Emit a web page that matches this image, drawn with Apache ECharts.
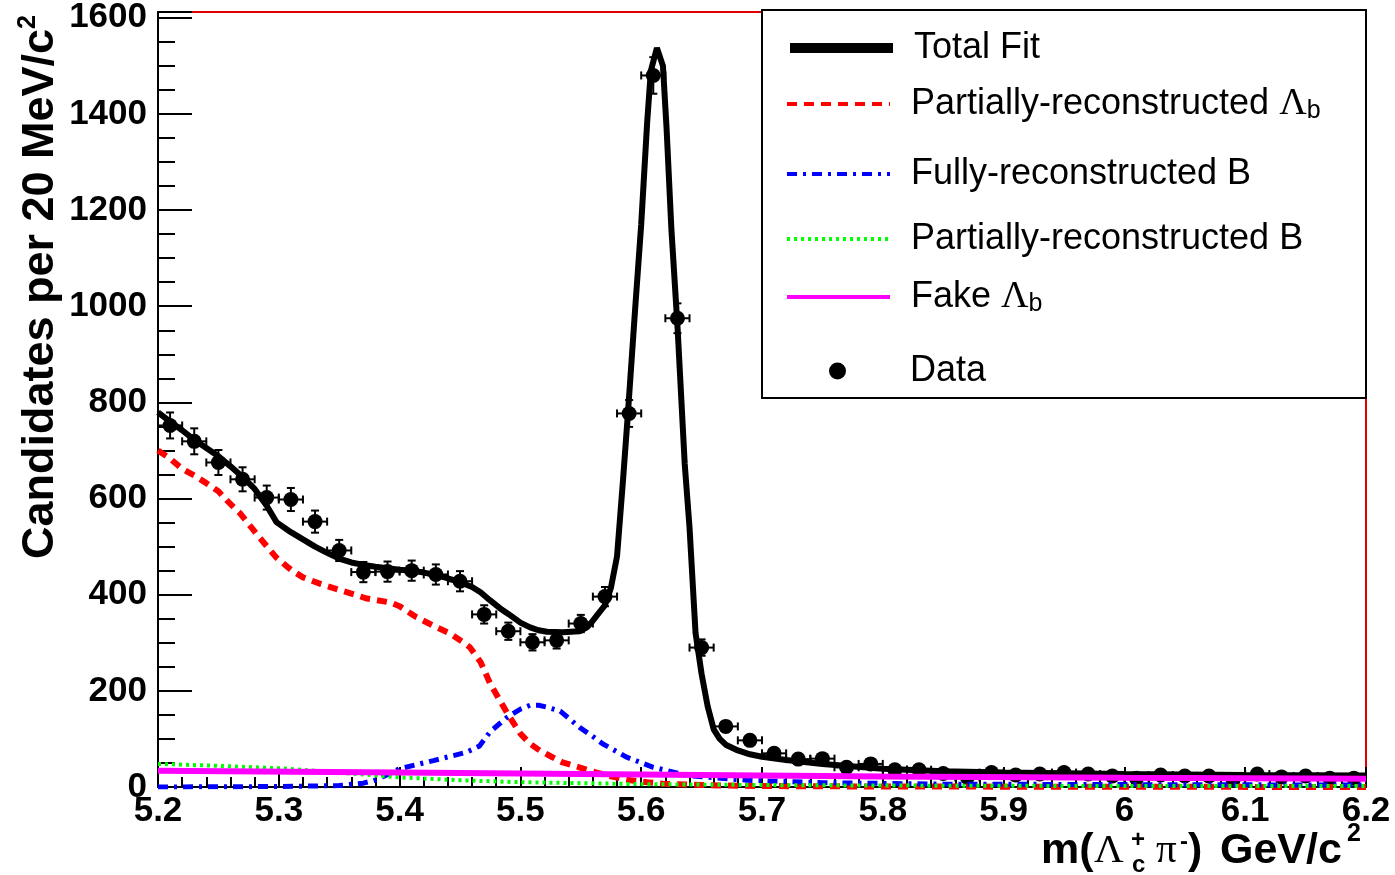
<!DOCTYPE html>
<html>
<head>
<meta charset="utf-8">
<script src="https://cdn.jsdelivr.net/npm/echarts@6/dist/echarts.min.js"></script>
<style>
  html, body { margin: 0; padding: 0; background: #ffffff; }
  #chart { width: 1395px; height: 875px; }
</style>
</head>
<body>
<div id="chart"></div>
<script>
// data: bin centres (GeV/c^2), candidates per 20 MeV/c^2 and their errors
const binMass = [5.21, 5.23, 5.25, 5.27, 5.29, 5.31, 5.33, 5.35, 5.37, 5.39,
  5.41, 5.43, 5.45, 5.47, 5.49, 5.51, 5.53, 5.55, 5.57, 5.59,
  5.61, 5.63, 5.65, 5.67, 5.69, 5.71, 5.73, 5.75, 5.77, 5.79,
  5.81, 5.83, 5.85, 5.87, 5.89, 5.91, 5.93, 5.95, 5.97, 5.99,
  6.01, 6.03, 6.05, 6.07, 6.09, 6.11, 6.13, 6.15, 6.17, 6.19]
const binCount = [752, 719, 675, 640, 602, 598, 552, 492, 447, 448,
  450, 442, 428, 359, 324, 301, 305, 340, 396, 777,
  1480, 975, 290, 126, 97, 70, 58, 59, 41, 48,
  36, 36, 28, 20, 30, 25, 27, 30, 27, 23,
  18, 25, 23, 23, 15, 27, 21, 23, 18, 18]
const binErr = [27, 27, 26, 25, 25, 24, 23, 22, 21, 21,
  21, 21, 21, 19, 18, 17, 17, 18, 20, 28,
  38, 31, 17, 11, 10, 8, 8, 8, 6, 7,
  6, 6, 5, 4, 5, 5, 5, 5, 5, 5,
  4, 5, 5, 5, 4, 5, 5, 5, 4, 4]
const binHalfWidth = 0.01

// total fit
const fitMass = [5.2, 5.21, 5.22, 5.23, 5.24, 5.25, 5.26, 5.27, 5.28, 5.29,
  5.298, 5.31, 5.32, 5.33, 5.34, 5.35, 5.36, 5.37, 5.38, 5.39,
  5.4, 5.41, 5.42, 5.43, 5.44, 5.45, 5.46, 5.467, 5.475, 5.483,
  5.49, 5.5, 5.508, 5.515, 5.522, 5.535, 5.549, 5.555, 5.56, 5.565,
  5.57, 5.575, 5.58, 5.585, 5.589, 5.595, 5.6, 5.605, 5.608, 5.613,
  5.618, 5.621, 5.625, 5.63, 5.636, 5.64, 5.645, 5.65, 5.655, 5.66,
  5.665, 5.67, 5.68, 5.69, 5.7, 5.72, 5.75, 5.8, 5.85, 5.9,
  6.0, 6.1, 6.2]
const fitCount = [779, 760, 742, 722, 705, 688, 667, 645, 620, 585,
  551, 530, 515, 500, 487, 475, 467, 462, 458, 455,
  452, 450, 446, 441, 434, 426, 416, 405, 388, 372,
  360, 342, 332, 326, 323, 322, 324, 332, 346, 362,
  378, 415, 480, 640, 777, 995, 1170, 1385, 1490, 1537,
  1500, 1370, 1160, 960, 673, 540, 320, 235, 168, 120,
  100, 88, 76, 68, 63, 56, 48, 38, 33, 30,
  27, 25, 24]

// partially-reconstructed Lambda_b
const partLbMass = [5.2, 5.21, 5.22, 5.23, 5.24, 5.25, 5.257, 5.268, 5.284, 5.298,
  5.31, 5.32, 5.335, 5.35, 5.373, 5.392, 5.4, 5.414, 5.43, 5.442,
  5.452, 5.458, 5.467, 5.475, 5.483, 5.49, 5.5, 5.508, 5.516, 5.525,
  5.535, 5.55, 5.563, 5.575, 5.591, 5.605, 5.618, 5.65, 5.7, 5.8, 6.2]
const partLbCount = [700, 683, 662, 648, 632, 615, 596, 569, 519, 477,
  452, 436, 422, 410, 392, 384, 376, 353, 333, 319,
  302, 291, 260, 215, 180, 150, 111, 90, 76, 64,
  51, 40, 30, 22, 14, 10, 7, 4, 2, 1, 0]

// fully-reconstructed B
const fullBMass = [5.2, 5.3, 5.35, 5.37, 5.381, 5.4, 5.428, 5.455, 5.466, 5.475,
  5.489, 5.5, 5.508, 5.515, 5.522, 5.533, 5.549, 5.56, 5.568, 5.588,
  5.61, 5.638, 5.688, 5.75, 5.85, 6.0, 6.2]
const fullBCount = [0, 1, 3, 8, 15, 38, 55, 72, 85, 115,
  145, 162, 170, 170, 166, 158, 124, 105, 90, 62,
  41, 24, 14, 9, 6, 5, 4]

// partially-reconstructed B
const partBMass = [5.2, 5.25, 5.3, 5.35, 5.4, 5.45, 5.5, 5.55, 5.6, 5.7, 5.8, 6.0, 6.2]
const partBCount = [48, 44, 39, 30, 20, 14, 10, 8, 6, 4, 3, 2, 2]

// fake Lambda_b
const fakeLbMass = [5.2, 5.4, 5.6, 5.8, 6.0, 6.2]
const fakeLbCount = [34, 30, 26, 22, 19, 17]

const xMin = 5.2, xMax = 6.2, xStep = 0.1
const yMin = 0, yMax = 1612, yStep = 200

const zip = (xs, ys) => xs.map((x, i) => [x, ys[i]])

const font = 'Liberation Sans'
const serif = 'Liberation Serif'

function renderErrorBar(params, api) {
  const x = api.value(0), y = api.value(1), e = api.value(2)
  const c = api.coord([x, y])
  const lo = api.coord([x, y - e])
  const hi = api.coord([x, y + e])
  const l = api.coord([x - binHalfWidth, y])
  const r = api.coord([x + binHalfWidth, y])
  const cap = 4
  const style = { stroke: '#000', lineWidth: 2 }
  return {
    type: 'group',
    children: [
      { type: 'line', shape: { x1: c[0], y1: lo[1], x2: c[0], y2: hi[1] }, style },
      { type: 'line', shape: { x1: c[0] - cap, y1: lo[1], x2: c[0] + cap, y2: lo[1] }, style },
      { type: 'line', shape: { x1: c[0] - cap, y1: hi[1], x2: c[0] + cap, y2: hi[1] }, style },
      { type: 'line', shape: { x1: l[0], y1: c[1], x2: r[0], y2: c[1] }, style },
      { type: 'line', shape: { x1: l[0], y1: c[1] - cap, x2: l[0], y2: c[1] + cap }, style },
      { type: 'line', shape: { x1: r[0], y1: c[1] - cap, x2: r[0], y2: c[1] + cap }, style },
    ],
  }
}

// legend rows: name, rich label, top, line width, icon height, left
const legendRows = [
  ['Total Fit', '{a|Total Fit}', 30, 10, 14, 785],
  ['Partially-reconstructed Λb', '{a|Partially-reconstructed }{g|Λ}{s|b}', 85, 4, 14, 785],
  ['Fully-reconstructed B', '{a|Fully-reconstructed B}', 156, 4, 14, 785],
  ['Partially-reconstructed B', '{a|Partially-reconstructed B}', 221, 4, 14, 785],
  ['Fake Λb', '{a|Fake }{g|Λ}{s|b}', 278, 4, 14, 785],
  ['Data', '{a|Data}', 353, 0, 17, 829],
]

const legendRich = {
  a: { fontFamily: font, fontSize: 36, color: '#000', lineHeight: 40 },
  g: { fontFamily: serif, fontSize: 38, color: '#000', lineHeight: 40 },
  s: { fontFamily: font, fontSize: 25, color: '#000', lineHeight: 12, verticalAlign: 'bottom' },
}

const legends = legendRows.map(([name, label, top, w, h, left]) => {
  const lg = {
    data: [name],
    left: left,
    top: top,
    padding: 0,
    itemWidth: 103,
    itemHeight: h,
    selectedMode: false,
    z: 20,
    formatter: () => label,
    textStyle: { padding: [0, 0, 0, 16], rich: legendRich },
  }
  if (w) {
    lg.lineStyle = { width: w }
    lg.itemStyle = { opacity: 0 }
  }
  return lg
})

const chart = echarts.init(document.getElementById('chart'))

chart.setOption({
  animation: false,
  backgroundColor: '#ffffff',
  grid: {
    left: 158, right: 29, top: 12, bottom: 88,
    show: true, borderColor: '#e00000', borderWidth: 2,
    outerBoundsMode: 'none',
  },
  legend: legends,
  xAxis: {
    type: 'value',
    min: xMin, max: xMax, interval: xStep,
    position: 'bottom',
    axisLine: { lineStyle: { color: '#000', width: 2 } },
    axisTick: { inside: true, length: 20, lineStyle: { color: '#000', width: 2 } },
    minorTick: { show: true, splitNumber: 5, length: 10, lineStyle: { color: '#000', width: 2 } },
    splitLine: { show: false },
    axisLabel: {
      margin: 7, color: '#000', fontFamily: font, fontWeight: 'bold', fontSize: 35,
      formatter: (v) => String(Math.round(v * 10) / 10),
    },
  },
  yAxis: [
    {
      type: 'value',
      min: yMin, max: yMax, interval: yStep,
      position: 'left',
      axisLine: { show: true, lineStyle: { color: '#000', width: 2 } },
      axisTick: { inside: true, length: 34, lineStyle: { color: '#000', width: 2 } },
      splitLine: { show: false },
      axisLabel: {
        margin: 11, color: '#000', fontFamily: font, fontWeight: 'bold', fontSize: 35,
        formatter: (v) => (v % yStep === 0 ? String(v) : ''),
      },
    },
    {
      // minor ticks every 50
      type: 'value',
      min: yMin, max: yMax, interval: 50,
      position: 'left',
      axisLine: { show: false },
      axisTick: { inside: true, length: 17, lineStyle: { color: '#000', width: 2 } },
      splitLine: { show: false },
      axisLabel: { show: false },
    },
  ],
  graphic: [
    {
      type: 'rect', z: 10,
      shape: { x: 762, y: 10, width: 604, height: 388 },
      style: { fill: '#fff', stroke: '#000', lineWidth: 2 },
    },
    {
      type: 'text', z: 10, x: 41, y: 15, rotation: Math.PI / 2,
      style: {
        text: '{m|Candidates per 20 MeV/c}{p|2}',
        align: 'right', verticalAlign: 'middle',
        rich: {
          m: { fontFamily: font, fontWeight: 'bold', fontSize: 45, lineHeight: 50, fill: '#000' },
          p: { fontFamily: font, fontWeight: 'bold', fontSize: 25, lineHeight: 18, verticalAlign: 'top', fill: '#000' },
        },
      },
    },
    { type: 'text', z: 10, x: 1041, y: 851, style: { text: 'm(', font: 'bold 43px ' + font, fill: '#000', verticalAlign: 'middle' } },
    { type: 'text', z: 10, x: 1094, y: 851, style: { text: 'Λ', font: '41px ' + serif, fill: '#000', verticalAlign: 'middle' } },
    { type: 'text', z: 10, x: 1131, y: 840, style: { text: '+', font: 'bold 24px ' + font, fill: '#000', verticalAlign: 'middle' } },
    { type: 'text', z: 10, x: 1132, y: 865, style: { text: 'c', font: 'bold 24px ' + font, fill: '#000', verticalAlign: 'middle' } },
    { type: 'text', z: 10, x: 1156, y: 851, style: { text: 'π', font: '41px ' + serif, fill: '#000', verticalAlign: 'middle' } },
    { type: 'text', z: 10, x: 1180, y: 842, style: { text: '-', font: 'bold 24px ' + font, fill: '#000', verticalAlign: 'middle' } },
    { type: 'text', z: 10, x: 1188, y: 851, style: { text: ')', font: 'bold 43px ' + font, fill: '#000', verticalAlign: 'middle' } },
    { type: 'text', z: 10, x: 1220, y: 851, style: { text: 'GeV/c', font: 'bold 43px ' + font, fill: '#000', verticalAlign: 'middle' } },
    { type: 'text', z: 10, x: 1347, y: 834, style: { text: '2', font: 'bold 25px ' + font, fill: '#000', verticalAlign: 'middle' } },
  ],
  series: [
    {
      type: 'custom', name: 'errors', silent: true,
      renderItem: renderErrorBar,
      encode: { x: 0, y: 1 },
      data: binMass.map((m, i) => [m, binCount[i], binErr[i]]),
    },
    {
      type: 'scatter', name: 'Data', symbol: 'circle', symbolSize: 15,
      itemStyle: { color: '#000', opacity: 1 },
      data: zip(binMass, binCount),
    },
    {
      type: 'line', name: 'Total Fit', symbol: 'none',
      lineStyle: { color: '#000', width: 6 }, itemStyle: { color: '#000' },
      data: zip(fitMass, fitCount),
    },
    {
      type: 'line', name: 'Partially-reconstructed Λb', symbol: 'none',
      lineStyle: { color: '#ff0000', width: 6, type: [10, 7] }, itemStyle: { color: '#ff0000' },
      data: zip(partLbMass, partLbCount),
    },
    {
      type: 'line', name: 'Fully-reconstructed B', symbol: 'none',
      lineStyle: { color: '#0000ff', width: 5, type: [10, 6, 3, 6] }, itemStyle: { color: '#0000ff' },
      data: zip(fullBMass, fullBCount),
    },
    {
      type: 'line', name: 'Partially-reconstructed B', symbol: 'none',
      lineStyle: { color: '#00ff00', width: 4, type: [3, 4] }, itemStyle: { color: '#00ff00' },
      data: zip(partBMass, partBCount),
    },
    {
      type: 'line', name: 'Fake Λb', symbol: 'none',
      lineStyle: { color: '#ff00ff', width: 6 }, itemStyle: { color: '#ff00ff' },
      data: zip(fakeLbMass, fakeLbCount),
    },
  ],
})

window.onresize = function () {
  chart.resize()
}
</script>
</body>
</html>
